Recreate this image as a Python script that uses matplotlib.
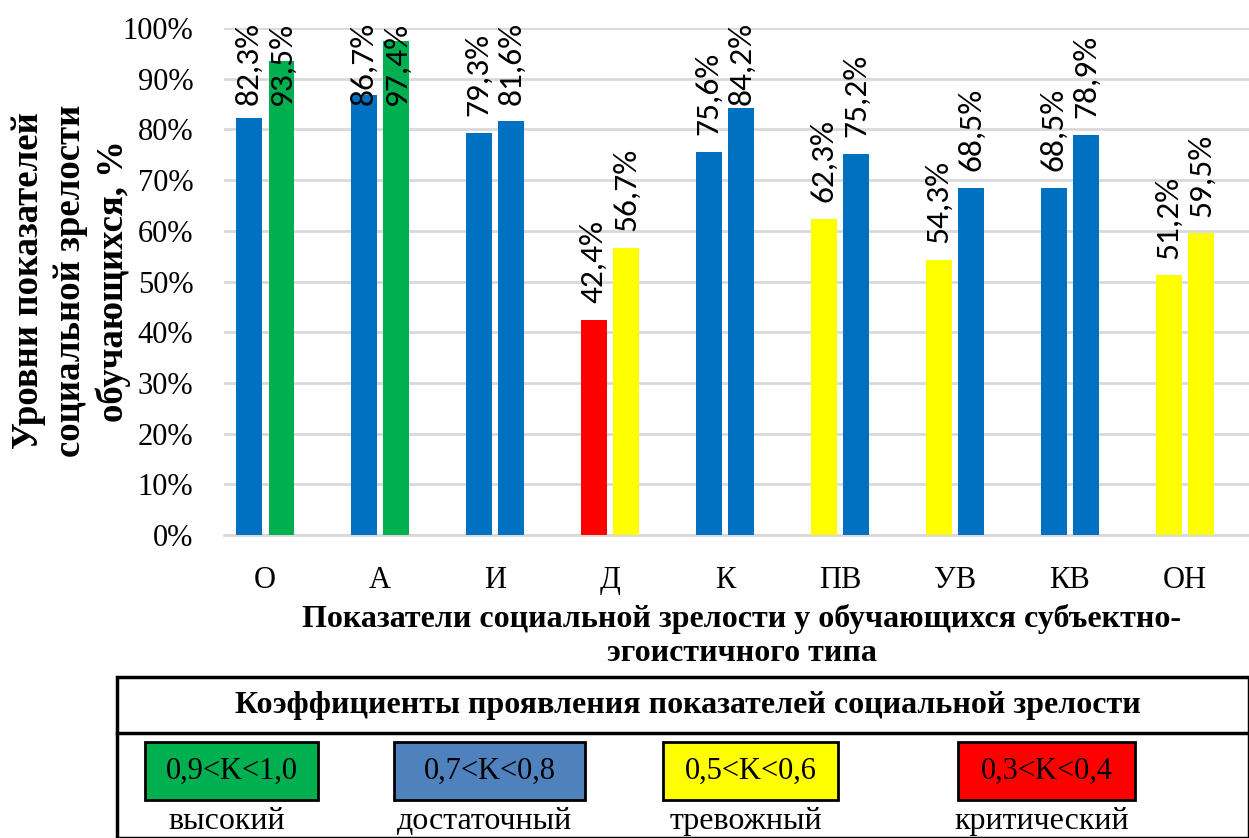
import matplotlib.pyplot as plt
from matplotlib.patches import Rectangle
from matplotlib.lines import Line2D
import numpy as np

plt.rcParams["font.family"] = ["Liberation Serif", "DejaVu Serif"]

# Indicators and their two values, with colour by coefficient level
categories = ["О", "А", "И", "Д", "К", "ПВ", "УВ", "КВ", "ОН"]
first_vals = [82.3, 86.7, 79.3, 42.4, 75.6, 62.3, 54.3, 68.5, 51.2]
second_vals = [93.5, 97.4, 81.6, 56.7, 84.2, 75.2, 68.5, 78.9, 59.5]
first_lvl = ["mid", "mid", "mid", "crit", "mid", "warn", "warn", "mid", "warn"]
second_lvl = ["high", "high", "mid", "warn", "mid", "mid", "mid", "mid", "warn"]

colors = {"high": "#00B050", "mid": "#0070C0", "warn": "#FFFF00", "crit": "#FF0000"}

legend_ranges = ["0,9<K<1,0", "0,7<K<0,8", "0,5<K<0,6", "0,3<K<0,4"]
legend_names = ["высокий", "достаточный", "тревожный", "критический"]
legend_colors = ["#00B050", "#4F81BD", "#FFFF00", "#FF0000"]

W, H = 1249, 838
fig = plt.figure(figsize=(W / 100, H / 100), dpi=100)
ax = fig.add_axes([224 / W, 1 - 535 / H, (W - 224) / W, (535 - 28) / H])

x = np.arange(len(categories))
bw = 0.226
off = 0.143
ax.bar(x - off, first_vals, bw, color=[colors[c] for c in first_lvl], zorder=3)
ax.bar(x + off, second_vals, bw, color=[colors[c] for c in second_lvl], zorder=3)

ax.set_ylim(0, 100)
ax.set_xlim(-0.357, 8.557)
ax.set_yticks(np.arange(0, 101, 10))
ax.set_yticklabels([f"{v}%" for v in range(0, 101, 10)], fontsize=22)
ax.set_xticks(x)
ax.set_xticklabels(categories, fontsize=22)
ax.tick_params(length=0)
ax.tick_params(axis="x", pad=22)
ax.tick_params(axis="y", pad=22)
ax.grid(axis="y", color="#D9D9D9", linewidth=2, zorder=0)
for s in ["top", "right", "left"]:
    ax.spines[s].set_visible(False)
ax.spines["bottom"].set_color("#D9D9D9")
ax.spines["bottom"].set_linewidth(2)

# value labels above the bars; the tallest ones are pushed down to stay in the chart
label_font = ["Carlito", "Lato", "DejaVu Sans"]
gap, label_len, top_lim = 3.3, 15.8, 101.2
for xs, vals in [(x - off, first_vals), (x + off, second_vals)]:
    for xi, v in zip(xs, vals):
        txt = f"{v:.1f}%".replace(".", ",")
        if v + gap + label_len > top_lim:
            ax.text(xi, top_lim, txt, rotation=90, ha="center", va="top",
                    fontsize=24, family=label_font, clip_on=False, zorder=4)
        else:
            ax.text(xi, v + gap, txt, rotation=90, ha="center", va="bottom",
                    fontsize=24, family=label_font, clip_on=False, zorder=4)

fig.text(71 / W, 1 - 281 / H, "Уровни показателей\nсоциальной зрелости\nобучающихся, %",
         rotation=90, ha="center", va="center", fontsize=26.5, fontweight="bold",
         linespacing=1.27)
fig.text(742 / W, 1 - 636 / H, "Показатели социальной зрелости у обучающихся субъектно-\nэгоистичного типа",
         ha="center", va="center", fontsize=23, fontweight="bold", linespacing=1.25)

# legend table
fig.add_artist(Rectangle((117 / W, 0), (W - 117) / W, (838 - 677) / H,
                         transform=fig.transFigure, fill=False, edgecolor="black", linewidth=2.5))
fig.add_artist(Line2D([117 / W, 1], [1 - 733 / H, 1 - 733 / H],
                      transform=fig.transFigure, color="black", linewidth=2.5))
fig.text(688 / W, 1 - 706 / H, "Коэффициенты проявления показателей социальной зрелости",
         ha="center", va="center", fontsize=23, fontweight="bold")

box_x = [145, 394, 663, 958]
box_w = [173, 191, 175, 177]
for bx, bwid, col, rng, name in zip(box_x, box_w, legend_colors, legend_ranges, legend_names):
    fig.add_artist(Rectangle((bx / W, 1 - 800 / H), bwid / W, 58 / H,
                             transform=fig.transFigure, facecolor=col,
                             edgecolor="black", linewidth=2))
    fig.text((bx + bwid / 2) / W, 1 - 771 / H, rng, ha="center", va="center", fontsize=22)
    fig.text((bx + bwid / 2 - 5) / W, 1 - 821 / H, name, ha="center", va="center", fontsize=23)

fig.savefig("out.png", dpi=100)
